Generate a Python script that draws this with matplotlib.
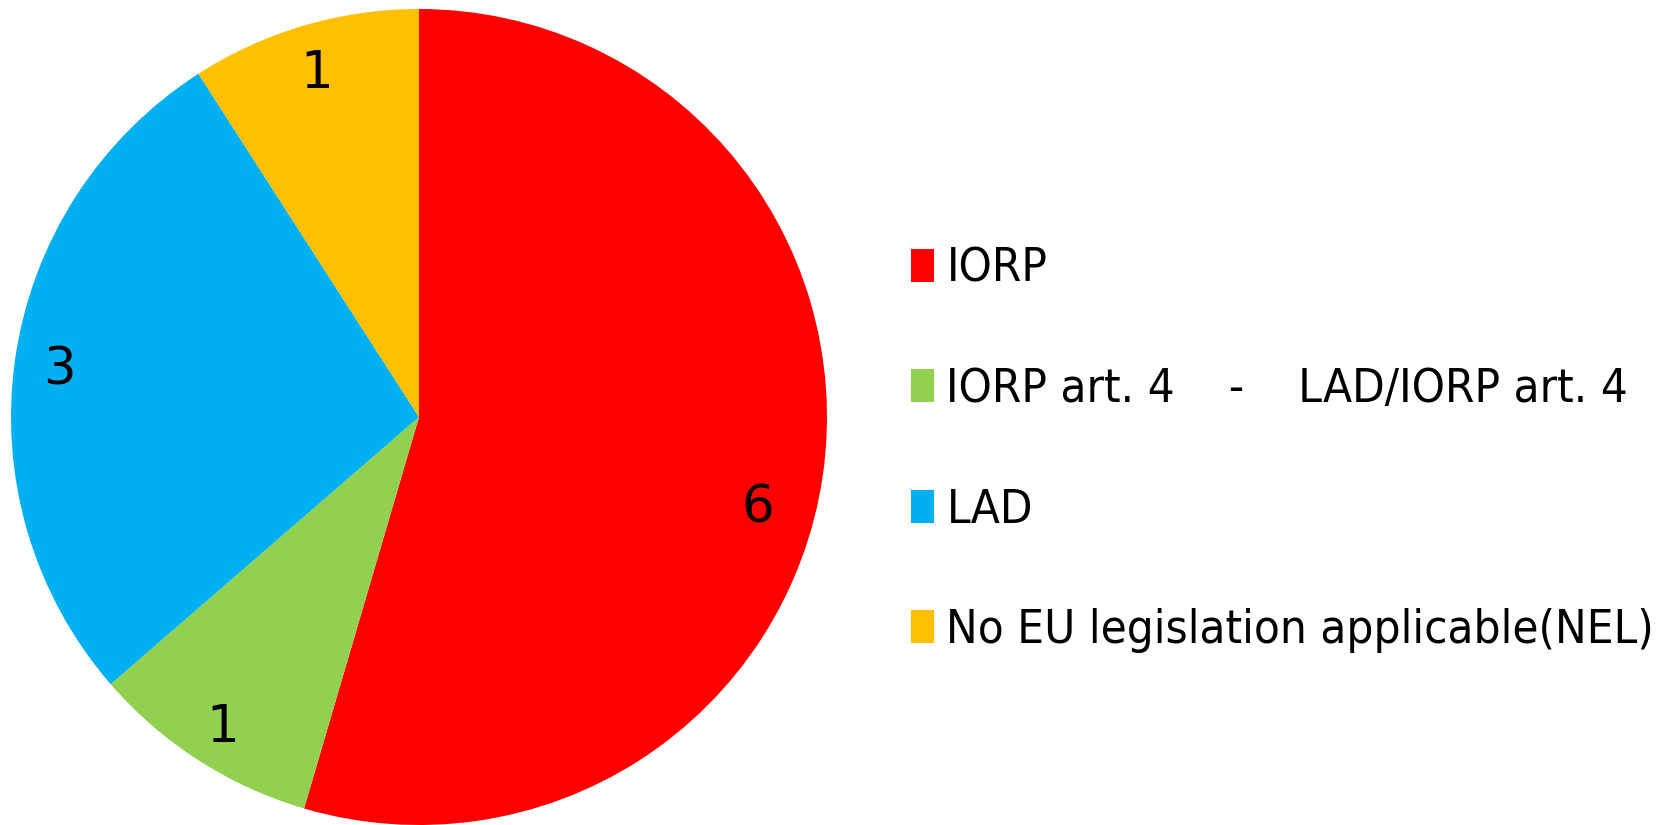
import matplotlib
matplotlib.use("Agg")
import matplotlib.pyplot as plt
from matplotlib.patches import Patch

# ── Data ───────────────────────────────────────────────────────
categories = ["IORP", "IORP art. 4    -    LAD/IORP art. 4", "LAD",
              "No EU legislation applicable(NEL)"]
counts = [6, 1, 3, 1]
colors = ["#FF0000", "#92D050", "#00B0F0", "#FFC000"]

# ── Plot ────────────────────────────────────────────────────────
W, H = 1671, 825
fig = plt.figure(figsize=(W / 100, H / 100), dpi=100)

cx, cy, r = 419, 408, 408   # cy measured from bottom
ax = fig.add_axes([(cx - r) / W, (cy - r) / H, 2 * r / W, 2 * r / H])
wedges, texts, autotexts = ax.pie(
    counts, colors=colors, startangle=90, counterclock=False,
    autopct=lambda p: f"{p * sum(counts) / 100:.0f}", pctdistance=0.89,
    radius=1, wedgeprops=dict(linewidth=0),
    textprops=dict(fontsize=37, color="black"))
for t in autotexts:
    t.set_verticalalignment("center_baseline")
ax.set_xlim(-1, 1)
ax.set_ylim(-1, 1)
ax.set_aspect("equal")
ax.axis("off")

# nudge the big label to where the original puts it
autotexts[0].set_position((0.83, -0.21))

handles = [Patch(facecolor=c, edgecolor="none") for c in colors]
leg = fig.legend(handles, categories, loc="center left",
                 bbox_to_anchor=(911 / W, (H - 450) / H),
                 frameon=False, handlelength=0.48, handleheight=0.7,
                 handletextpad=0.27, labelspacing=1.6, borderaxespad=0,
                 borderpad=0,
                 prop=dict(size=34, stretch="condensed"))

fig.savefig("out.png", dpi=100)
